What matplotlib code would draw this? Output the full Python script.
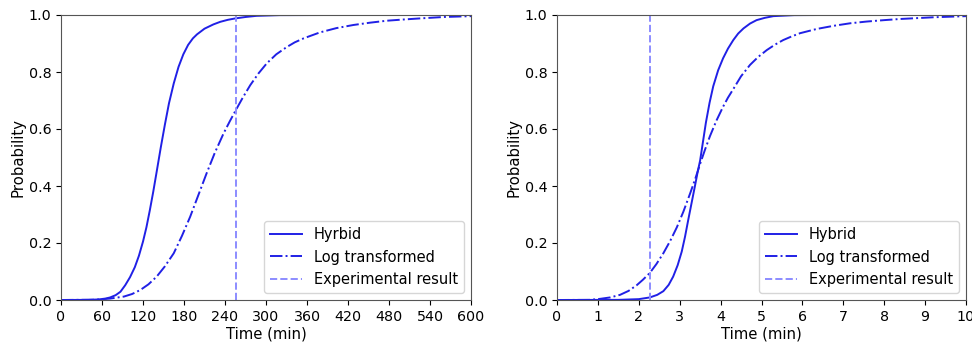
import matplotlib
matplotlib.use("Agg")
import matplotlib.pyplot as plt

# Cumulative probability of completion time, long run (minutes)
t_long_hybrid = [0, 40, 55, 65, 72, 80, 87, 94, 101, 108, 114, 120, 125, 130, 135, 140, 146,
                 152, 158, 165, 172, 179, 186, 193, 199, 210, 223, 233, 244, 255, 270, 286,
                 320, 400, 600]
p_long_hybrid = [0.0, 0.0005, 0.002, 0.005, 0.009, 0.017, 0.029, 0.052, 0.08, 0.115, 0.155,
                 0.205, 0.255, 0.315, 0.38, 0.45, 0.535, 0.615, 0.69, 0.76, 0.818, 0.862,
                 0.895, 0.918, 0.932, 0.952, 0.967, 0.976, 0.983, 0.988, 0.993, 0.997,
                 0.9995, 1.0, 1.0]
t_long_log = [0, 50, 72, 92, 104, 116, 128, 140, 152, 165, 177, 189, 201, 213, 225, 238, 247,
              256, 266, 277, 289, 301, 315, 330, 342, 355, 379, 403, 428, 452, 477, 500, 525,
              560, 600]
p_long_log = [0.0, 0.001, 0.005, 0.012, 0.021, 0.035, 0.055, 0.082, 0.118, 0.164, 0.225,
              0.292, 0.368, 0.444, 0.516, 0.585, 0.627, 0.667, 0.71, 0.754, 0.795, 0.83,
              0.862, 0.887, 0.904, 0.918, 0.939, 0.954, 0.965, 0.973, 0.98, 0.984, 0.988,
              0.993, 0.996]
exp_long = 256

# Cumulative probability of completion time, short run (minutes)
t_short_hybrid = [0, 1.5, 2.0, 2.27, 2.45, 2.6, 2.73, 2.84, 2.95, 3.05, 3.13, 3.21, 3.29, 3.37,
                  3.44, 3.5, 3.57, 3.64, 3.73, 3.82, 3.94, 4.06, 4.18, 4.31, 4.43, 4.56, 4.72,
                  4.88, 5.08, 5.29, 5.8, 6.5, 10]
p_short_hybrid = [0.0, 0.0005, 0.003, 0.009, 0.018, 0.031, 0.053, 0.082, 0.122, 0.17, 0.222,
                  0.282, 0.34, 0.398, 0.45, 0.49, 0.556, 0.622, 0.692, 0.75, 0.806, 0.848,
                  0.882, 0.912, 0.935, 0.953, 0.97, 0.982, 0.99, 0.996, 0.9995, 1.0, 1.0]
t_short_log = [0, 0.8, 1.05, 1.3, 1.54, 1.75, 1.95, 2.1, 2.27, 2.43, 2.6, 2.77, 2.93, 3.09,
               3.25, 3.38, 3.5, 3.62, 3.74, 3.9, 4.06, 4.18, 4.31, 4.5, 4.72, 4.92, 5.13,
               5.33, 5.53, 5.74, 5.94, 6.35, 6.76, 7.17, 7.57, 8.0, 8.39, 9.2, 10.0]
p_short_log = [0.0, 0.0005, 0.004, 0.009, 0.018, 0.032, 0.052, 0.071, 0.095, 0.126, 0.164,
               0.208, 0.255, 0.31, 0.372, 0.425, 0.478, 0.528, 0.575, 0.63, 0.678, 0.71,
               0.74, 0.785, 0.825, 0.853, 0.877, 0.896, 0.912, 0.925, 0.936, 0.951, 0.962,
               0.971, 0.977, 0.982, 0.986, 0.992, 0.996]
exp_short = 2.28

line_color = "#2020e6"
exp_color = "#8c8cff"

fig = plt.figure(figsize=(9.72, 3.46), dpi=100)
ax1 = fig.add_axes([61 / 972, 46 / 346, 410 / 972, 285 / 346])
ax2 = fig.add_axes([557 / 972, 46 / 346, 409 / 972, 285 / 346])

panels = [
    (ax1, t_long_hybrid, p_long_hybrid, t_long_log, p_long_log, exp_long, "Hyrbid", 600, range(0, 601, 60)),
    (ax2, t_short_hybrid, p_short_hybrid, t_short_log, p_short_log, exp_short, "Hybrid", 10, range(0, 11)),
]

for ax, th, ph, tl, pl, texp, hlabel, xmax, xticks in panels:
    ax.plot(th, ph, color=line_color, lw=1.4, label=hlabel)
    ax.plot(tl, pl, color=line_color, lw=1.4, ls="-.", label="Log transformed")
    ax.axvline(texp, color=exp_color, lw=1.4, ls="--", label="Experimental result")
    ax.set_xlim(0, xmax)
    ax.set_ylim(0, 1)
    ax.set_xticks(list(xticks))
    ax.set_yticks([0.0, 0.2, 0.4, 0.6, 0.8, 1.0])
    ax.tick_params(labelsize=10.3)
    ax.set_xlabel("Time (min)", fontsize=10.7, labelpad=2)
    ax.set_ylabel("Probability", fontsize=10.7, labelpad=2)
    for s in ax.spines.values():
        s.set_color("#555555")
    ax.legend(loc="lower right", fontsize=10.5, handlelength=2.2)

fig.savefig("out.png", dpi=100)
